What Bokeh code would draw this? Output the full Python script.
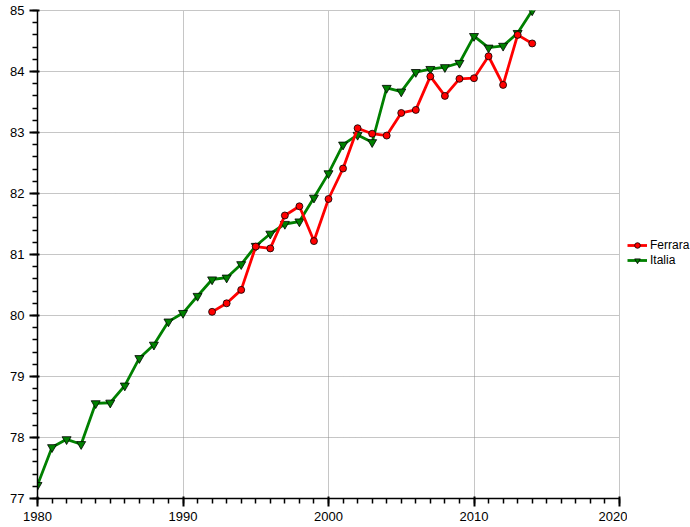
from bokeh.plotting import figure
from bokeh.models import Legend, LegendItem, FixedTicker, Range1d
from bokeh.layouts import row
from bokeh.embed import file_html
from bokeh.resources import INLINE

italia_years = list(range(1980, 2015))
italia_values = [77.22, 77.84, 77.97, 77.89, 78.56, 78.57, 78.85, 79.30, 79.52, 79.90,
                 80.04, 80.32, 80.59, 80.62, 80.84, 81.14, 81.34, 81.50, 81.54, 81.93,
                 82.33, 82.80, 82.96, 82.84, 83.73, 83.67, 83.99, 84.04, 84.07, 84.14,
                 84.58, 84.39, 84.42, 84.63, 85.00]
ferrara_years = list(range(1992, 2015))
ferrara_values = [80.06, 80.20, 80.42, 81.13, 81.10, 81.64, 81.79, 81.22, 81.91, 82.41,
                  83.07, 82.98, 82.95, 83.32, 83.37, 83.92, 83.60, 83.88, 83.89, 84.25,
                  83.78, 84.60, 84.46]
x_major = [1980, 1990, 2000, 2010, 2020]
x_minor = list(range(1980, 2021))
y_major = [77, 78, 79, 80, 81, 82, 83, 84, 85]
y_minor = [round(77 + 0.2 * i, 1) for i in range(41)]
series_names = ["Ferrara", "Italia"]

FONT = "Liberation Sans"
RED = "#ff0000"
GREEN = "#008000"

p = figure(width=627, height=527, output_backend="svg", toolbar_location=None,
           x_range=Range1d(1980, 2020), y_range=Range1d(77, 85),
           min_border_left=37, min_border_top=10, min_border_bottom=29, min_border_right=8)
p.outline_line_color = "#8c8c8c"
p.outline_line_dash = "1 1"
p.background_fill_color = "white"
p.border_fill_color = "white"

for ax, ticks, minor in ((p.xaxis[0], x_major, x_minor),
                         (p.yaxis[0], y_major, y_minor)):
    ax.ticker = FixedTicker(ticks=ticks, minor_ticks=minor)
    ax.axis_line_color = "black"
    ax.axis_line_width = 1.5
    ax.major_tick_line_color = "black"
    ax.minor_tick_line_color = "black"
    ax.major_tick_line_width = 2
    ax.minor_tick_line_width = 1.5
    ax.major_tick_out = 8
    ax.minor_tick_out = 5
    ax.major_label_text_font = FONT
    ax.major_label_text_font_size = "13px"
    ax.major_label_text_color = "black"

for g in (p.xgrid[0], p.ygrid[0]):
    g.grid_line_color = "#8c8c8c"
    g.grid_line_dash = "1 1"
    g.grid_line_width = 1

p.line(italia_years, italia_values, line_color=GREEN, line_width=2.8)
p.scatter(italia_years, italia_values, marker="inverted_triangle", size=9,
          fill_color=GREEN, line_color="black", line_width=0.8)
p.line(ferrara_years, ferrara_values, line_color=RED, line_width=2.8)
p.scatter(ferrara_years, ferrara_values, marker="circle", size=7,
          fill_color=RED, line_color="black", line_width=0.8)

# separate narrow panel holding the legend (outside the plot frame, as in the reference)
lf = figure(width=63, height=527, output_backend="svg", toolbar_location=None,
            x_range=Range1d(0, 1), y_range=Range1d(0, 1),
            min_border=0, x_axis_type=None, y_axis_type=None)
lf.outline_line_color = None
lf.xgrid.visible = False
lf.ygrid.visible = False
# renderers share the series data but lie outside this panel's ranges (legend swatches only)
fe_l = lf.line(ferrara_years, ferrara_values, line_color=RED, line_width=2.8)
fe_m = lf.scatter(ferrara_years, ferrara_values, marker="circle", size=7, fill_color=RED,
                  line_color="black", line_width=0.8)
it_l = lf.line(italia_years, italia_values, line_color=GREEN, line_width=2.8)
it_m = lf.scatter(italia_years, italia_values, marker="inverted_triangle", size=9,
                  fill_color=GREEN, line_color="black", line_width=0.8)

legend = Legend(items=[LegendItem(label=series_names[0], renderers=[fe_l, fe_m]),
                       LegendItem(label=series_names[1], renderers=[it_l, it_m])],
                location=(0, 231))
legend.label_text_font = FONT
legend.label_text_font_size = "12px"
legend.label_text_color = "black"
legend.glyph_width = 20
legend.glyph_height = 14
legend.label_height = 14
legend.label_standoff = 3
legend.spacing = 1
legend.padding = 0
legend.margin = 0
legend.border_line_color = None
legend.background_fill_alpha = 0
lf.add_layout(legend, "center")

layout = row(p, lf, spacing=0)
open("out.html", "w").write(file_html(layout, INLINE))
